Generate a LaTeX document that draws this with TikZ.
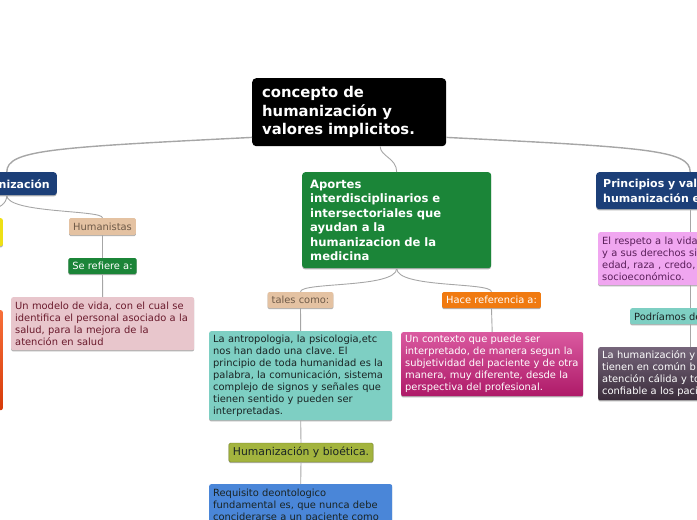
\documentclass[tikz,border=0pt]{standalone}
\usepackage{fontspec}
\setmainfont{DejaVu Sans}
\usetikzlibrary{shadows}
\frenchspacing

\definecolor{navy}{HTML}{1C3F78}
\definecolor{leafgreen}{HTML}{1B8538}
\definecolor{sand}{HTML}{E4C2A2}
\definecolor{sandtext}{HTML}{6E5A48}
\definecolor{rose}{HTML}{E8C6CC}
\definecolor{rosetext}{HTML}{6A1A2C}
\definecolor{mint}{HTML}{7ECFC3}
\definecolor{darktext}{HTML}{1A2424}
\definecolor{tangerine}{HTML}{F07A10}
\definecolor{magtop}{HTML}{DA5AA0}
\definecolor{magbot}{HTML}{AE1A68}
\definecolor{moss}{HTML}{A3B43E}
\definecolor{mossline}{HTML}{6E7C22}
\definecolor{skyblue}{HTML}{4A86D8}
\definecolor{lilac}{HTML}{F0A6F0}
\definecolor{lilactext}{HTML}{5A1E5A}
\definecolor{plumtop}{HTML}{75657A}
\definecolor{plumbot}{HTML}{3A2C3A}
\definecolor{lemon}{HTML}{EEE016}
\definecolor{redtop}{HTML}{F7703A}
\definecolor{redbot}{HTML}{D63A08}
\definecolor{linegray}{HTML}{A6A6A6}

\begin{document}
\begin{tikzpicture}[x=1pt, y=-1pt,
  body/.style={font=\fontsize{9.9}{12}\selectfont},
  box/.style={body, rounded corners=2pt, align=left, anchor=north west, inner xsep=4pt, inner ysep=0pt},
  tag/.style={body, rounded corners=1.5pt, inner xsep=4pt, inner ysep=0pt, minimum height=16pt},
  heading/.style={font=\fontsize{11.6}{14.5}\selectfont\bfseries, text=white},
  under/.style={drop shadow={shadow xshift=0pt, shadow yshift=-1.2pt, opacity=0.3, fill=black}},
  link/.style={draw=linegray, line width=0.9pt},
  mainlink/.style={draw=linegray, line width=1.4pt}
]
\useasboundingbox (0,0) rectangle (697,520);
\clip (0,0) rectangle (697,520);

% ---------- Root ----------
\node[box, fill=black, rounded corners=4pt, text width=174pt, inner xsep=10pt, minimum height=68pt,
  font=\fontsize{14.8}{18.5}\selectfont\bfseries, text=white] (root) at (252,78)
  {concepto de\\ humanización y\\ valores implicitos.};

% ---------- Left branch ----------
\node[box, anchor=north east, fill=navy, heading, font=\fontsize{11}{14.5}\selectfont\bfseries, align=right,
  text width=86pt, inner xsep=7pt, minimum height=23pt, rounded corners=3pt, under] (left) at (57,172) {nización};
\node[box, anchor=north east, fill=lemon, text width=52pt, minimum height=28pt, under] (yellow) at (3,218) {};
\node[box, anchor=north east, top color=redtop, bottom color=redbot, text width=52pt, minimum height=100pt] (red) at (3,310) {};
\node[tag, fill=sand, text=sandtext, minimum height=17pt, under] (human) at (102.5,226.5) {Humanistas};
\node[tag, fill=leafgreen, text=white, under] (refiere) at (102.5,266) {Se refiere a:};
\node[box, fill=rose, text=rosetext, text width=175pt, minimum height=53pt, under] (modelo) at (11,297)
  {Un modelo de vida, con el cual se\\ identifica el personal asociado a la\\ salud, para la mejora de la\\ atención en salud};

% ---------- Middle branch ----------
\node[box, fill=leafgreen, heading, text width=173pt, inner xsep=8pt, minimum height=96pt,
  rounded corners=3pt, under] (aportes) at (302,172)
  {Aportes\\ interdisciplinarios e\\ intersectoriales que\\ ayudan a la\\ humanizacion de la\\ medicina};
\node[tag, fill=sand, text=sandtext, under] (tales) at (300.5,300) {tales como:};
\node[tag, fill=tangerine, text=white, under] (hace) at (491.5,300) {Hace referencia a:};
\node[box, fill=mint, text=darktext, text width=175pt, minimum height=89pt, under] (antro) at (209,331)
  {La antropologia, la psicologia,etc\\ nos han dado una clave. El\\ principio de toda humanidad es la\\
   palabra, la comunicación, sistema\\ complejo de signos y señales que\\ tienen sentido y pueden ser\\ interpretadas.};
\node[box, top color=magtop, bottom color=magbot, text=white, text width=174pt, minimum height=64pt, under] (contexto) at (401,332)
  {Un contexto que puede ser\\ interpretado, de manera segun la\\ subjetividad del paciente y de otra\\ manera, muy diferente, desde la\\ perspectiva del profesional.};
\node[tag, fill=moss, draw=mossline, text=darktext, minimum height=19pt, font=\fontsize{10.8}{12}\selectfont, under] (bio) at (301,452.5)
  {Humanización y bioética.};
\node[box, fill=skyblue, text=darktext, text width=175pt, minimum height=44pt, under] (requisito) at (209,484)
  {Requisito deontologico\\ fundamental es, que nunca debe\\ conciderarse a un paciente como};

% ---------- Right branch ----------
\node[box, fill=navy, heading, font=\fontsize{11}{14.5}\selectfont\bfseries, text width=174pt, inner xsep=7pt,
  minimum height=37pt, rounded corners=3pt, under] (right) at (596,172)
  {Principios y val\\ humanización e};
\node[box, fill=lilac, text=lilactext, text width=176pt, minimum height=53pt, under] (respeto) at (598,232)
  {El respeto a la vida\\ y a sus derechos si\\ edad, raza , credo,\\ socioeconómico.};
\node[box, fill=mint, text=darktext, text width=112pt, minimum height=16pt, under] (podriamos) at (630,308)
  {Podríamos de};
\node[box, top color=plumtop, bottom color=plumbot, text=white, text width=176pt, minimum height=53pt, under] (calida) at (598,347)
  {La humanización y\\ tienen en común b\\ atención cálida y to\\ confiable a los paci};

% ---------- Connectors ----------
\draw[mainlink] ([yshift=9pt]root.south west) .. controls +(-200,10) and +(0,-22) .. (left.north);
\draw[mainlink] ([yshift=9pt]root.south east) .. controls +(200,10) and +(0,-22) .. (right.north);
\draw[link] ([xshift=31pt]root.south) .. controls +(0,10) and +(0,-14) .. (aportes.north);

\draw[link] (left.south) .. controls +(0,18) and +(0,-8) .. (human.north);
\draw[link] (left.south) .. controls +(0,18) and +(0,-8) .. (yellow.north);
\draw[link] (human.south) -- (refiere.north);
\draw[link] (refiere.south) -- (modelo.north);

\draw[link] (aportes.south) .. controls +(0,20) and +(0,-10) .. (tales.north);
\draw[link] (aportes.south) .. controls +(0,20) and +(0,-10) .. (hace.north);
\draw[link] (tales.south) -- (antro.north);
\draw[link] (antro.south) -- (bio.north);
\draw[link] (bio.south) -- (requisito.north);
\draw[link] (hace.south) -- (contexto.north);

\draw[link] (right.south) -- (respeto.north);
\draw[link] (respeto.south) -- (podriamos.north);
\draw[link] (podriamos.south) -- (calida.north);
\end{tikzpicture}
\end{document}
